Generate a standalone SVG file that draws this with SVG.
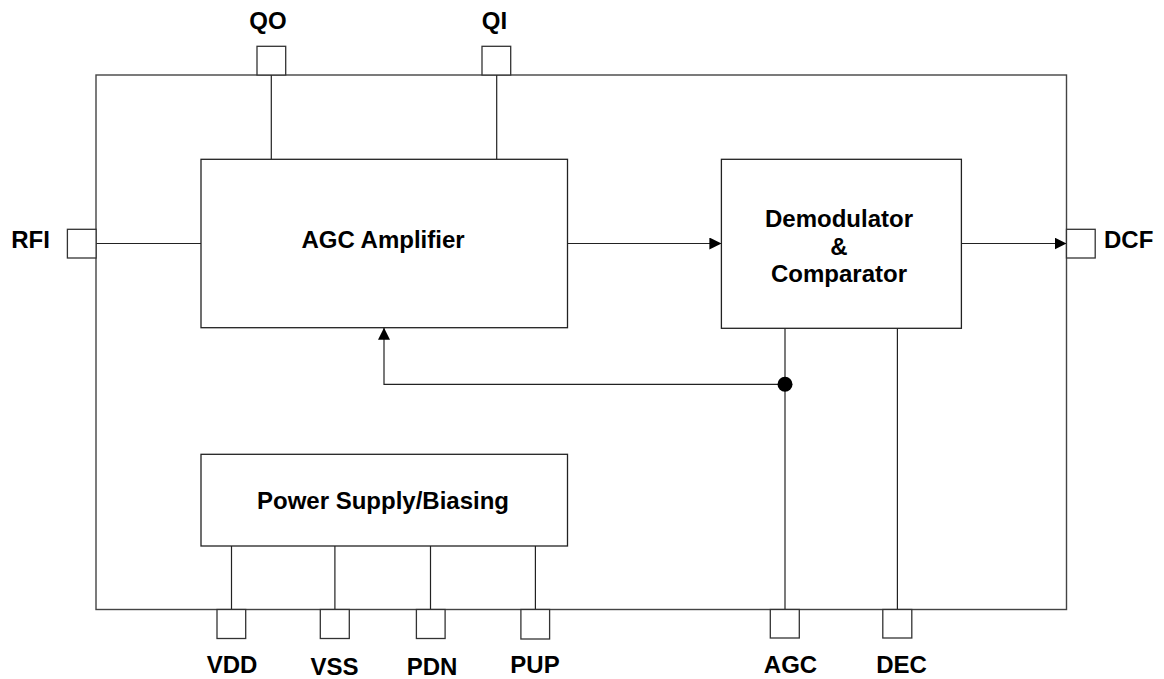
<svg xmlns="http://www.w3.org/2000/svg" width="1164" height="679" viewBox="0 0 1164 679">
  <style>
    .box { fill: #ffffff; stroke: #222222; stroke-width: 1.3; }
    .chip { fill: none; stroke: #444444; stroke-width: 1.4; }
    .pin { fill: #ffffff; stroke: #333333; stroke-width: 1.3; }
    .wire { fill: none; stroke: #222222; stroke-width: 1.2; }
    .lbl { font-family: "Liberation Sans", Arial, Helvetica, sans-serif; font-weight: bold; font-size: 24px; fill: #000000; }
    .mid { text-anchor: middle; }
  </style>
  <defs>
    <marker id="arrow" viewBox="0 0 12 12" refX="12" refY="6" markerWidth="12" markerHeight="12" markerUnits="userSpaceOnUse" orient="auto">
      <path d="M0,0 L12,6 L0,12 Z" fill="#000000"/>
    </marker>
  </defs>

  <rect width="1164" height="679" fill="#ffffff"/>

  <!-- chip outline -->
  <g id="chip">
    <rect class="chip" x="96" y="75" width="970.5" height="534.5"/>
  </g>

  <!-- internal wiring -->
  <g id="connectors">
    <!-- QO / QI to amplifier -->
    <line class="wire" x1="271.3" y1="75" x2="271.3" y2="159.3"/>
    <line class="wire" x1="496.7" y1="75" x2="496.7" y2="159.3"/>
    <!-- RFI to amplifier -->
    <line class="wire" x1="96" y1="243.5" x2="201" y2="243.5"/>
    <!-- amplifier to demodulator -->
    <line class="wire" x1="567.5" y1="243.5" x2="721.4" y2="243.5" marker-end="url(#arrow)"/>
    <!-- demodulator to DCF -->
    <line class="wire" x1="961.4" y1="243.5" x2="1066.5" y2="243.5" marker-end="url(#arrow)"/>
    <!-- AGC feedback -->
    <line class="wire" x1="785" y1="328.3" x2="785" y2="609.5"/>
    <polyline class="wire" points="785,384.3 384,384.3 384,327.7" marker-end="url(#arrow)"/>
    <circle cx="785" cy="384.3" r="7.5" fill="#000000"/>
    <!-- DEC -->
    <line class="wire" x1="897.4" y1="328.3" x2="897.4" y2="609.5"/>
    <!-- power supply pins -->
    <line class="wire" x1="231.5" y1="546" x2="231.5" y2="609.5"/>
    <line class="wire" x1="334.9" y1="546" x2="334.9" y2="609.5"/>
    <line class="wire" x1="430.5" y1="546" x2="430.5" y2="609.5"/>
    <line class="wire" x1="535.4" y1="546" x2="535.4" y2="609.5"/>
  </g>

  <!-- functional blocks -->
  <g id="agc-amplifier">
    <rect class="box" x="201" y="159.3" width="366.5" height="168.4"/>
    <text class="lbl mid" x="383" y="248">AGC Amplifier</text>
  </g>
  <g id="demodulator">
    <rect class="box" x="721.4" y="159.3" width="240" height="169"/>
    <text class="lbl mid" x="839" y="227">Demodulator</text>
    <text class="lbl mid" x="839" y="254.5">&amp;</text>
    <text class="lbl mid" x="839" y="282">Comparator</text>
  </g>
  <g id="power-supply">
    <rect class="box" x="201" y="454.3" width="366.5" height="91.7"/>
    <text class="lbl mid" x="383" y="508.5">Power Supply/Biasing</text>
  </g>

  <!-- pins -->
  <g id="pin-qo">
    <rect class="pin" x="257" y="46.3" width="28.7" height="28.7"/>
    <text class="lbl mid" x="268" y="29">QO</text>
  </g>
  <g id="pin-qi">
    <rect class="pin" x="482" y="46.3" width="28.7" height="28.7"/>
    <text class="lbl mid" x="494.5" y="29">QI</text>
  </g>
  <g id="pin-rfi">
    <rect class="pin" x="67.4" y="229.3" width="28.7" height="28.7"/>
    <text class="lbl mid" x="30.5" y="248">RFI</text>
  </g>
  <g id="pin-dcf">
    <rect class="pin" x="1066.5" y="229.3" width="28.7" height="28.7"/>
    <text class="lbl" x="1104" y="248">DCF</text>
  </g>
  <g id="pin-vdd">
    <rect class="pin" x="217" y="609.5" width="28.7" height="29"/>
    <text class="lbl mid" x="232" y="673">VDD</text>
  </g>
  <g id="pin-vss">
    <rect class="pin" x="320.3" y="609.5" width="29" height="29"/>
    <text class="lbl mid" x="334.5" y="675">VSS</text>
  </g>
  <g id="pin-pdn">
    <rect class="pin" x="416.4" y="609.5" width="28.7" height="29"/>
    <text class="lbl mid" x="432" y="675">PDN</text>
  </g>
  <g id="pin-pup">
    <rect class="pin" x="520.9" y="609.5" width="28.7" height="29.5"/>
    <text class="lbl mid" x="535" y="672.5">PUP</text>
  </g>
  <g id="pin-agc">
    <rect class="pin" x="770.3" y="609.5" width="29" height="28.5"/>
    <text class="lbl mid" x="790.5" y="673">AGC</text>
  </g>
  <g id="pin-dec">
    <rect class="pin" x="882.8" y="609.5" width="29" height="28.5"/>
    <text class="lbl mid" x="901.5" y="673">DEC</text>
  </g>
</svg>
